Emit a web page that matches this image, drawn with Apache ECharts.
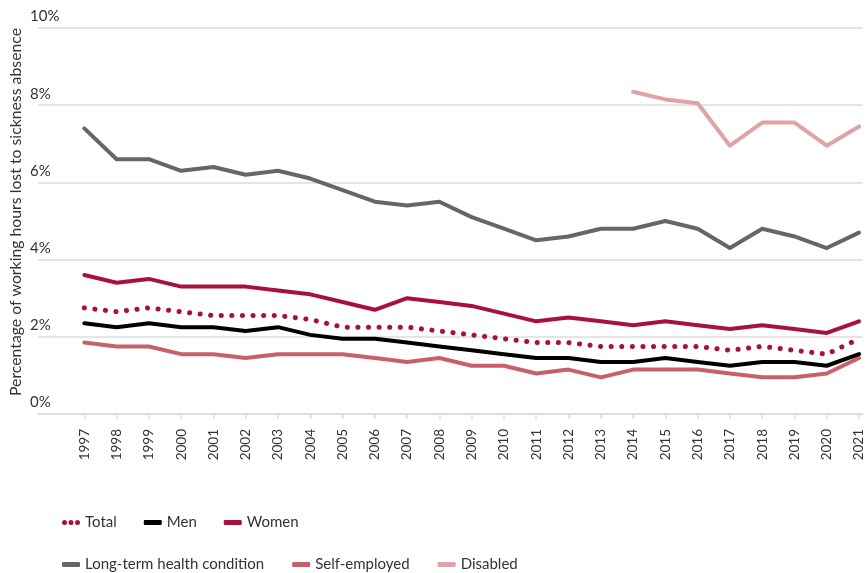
<!DOCTYPE html>
<html>
<head>
<meta charset="utf-8">
<script src="https://cdn.jsdelivr.net/npm/echarts@6/dist/echarts.min.js"></script>
<style>
  html, body { margin: 0; padding: 0; background: #fff; }
  #chart { width: 866px; height: 573px; }
</style>
</head>
<body>
<div id="chart"></div>
<script>
const years = [1997, 1998, 1999, 2000, 2001, 2002, 2003, 2004, 2005, 2006, 2007, 2008, 2009,
  2010, 2011, 2012, 2013, 2014, 2015, 2016, 2017, 2018, 2019, 2020, 2021]

const total = [2.75, 2.65, 2.75, 2.65, 2.55, 2.55, 2.55, 2.45, 2.25, 2.25, 2.25, 2.15, 2.05,
  1.95, 1.85, 1.85, 1.75, 1.75, 1.75, 1.75, 1.65, 1.75, 1.65, 1.55, 1.95]
const men = [2.35, 2.25, 2.35, 2.25, 2.25, 2.15, 2.25, 2.05, 1.95, 1.95, 1.85, 1.75, 1.65,
  1.55, 1.45, 1.45, 1.35, 1.35, 1.45, 1.35, 1.25, 1.35, 1.35, 1.25, 1.55]
const women = [3.6, 3.4, 3.5, 3.3, 3.3, 3.3, 3.2, 3.1, 2.9, 2.7, 3.0, 2.9, 2.8,
  2.6, 2.4, 2.5, 2.4, 2.3, 2.4, 2.3, 2.2, 2.3, 2.2, 2.1, 2.4]
const longTerm = [7.4, 6.6, 6.6, 6.3, 6.4, 6.2, 6.3, 6.1, 5.8, 5.5, 5.4, 5.5, 5.1,
  4.8, 4.5, 4.6, 4.8, 4.8, 5.0, 4.8, 4.3, 4.8, 4.6, 4.3, 4.7]
const selfEmployed = [1.85, 1.75, 1.75, 1.55, 1.55, 1.45, 1.55, 1.55, 1.55, 1.45, 1.35, 1.45, 1.25,
  1.25, 1.05, 1.15, 0.95, 1.15, 1.15, 1.15, 1.05, 0.95, 0.95, 1.05, 1.45]
const disabled = [null, null, null, null, null, null, null, null, null, null, null, null, null,
  null, null, null, null, 8.35, 8.15, 8.05, 6.95, 7.55, 7.55, 6.95, 7.45]

const yTicks = [0, 2, 4, 6, 8, 10]

const FONT = 'Lato, "DejaVu Sans", sans-serif'
const TEXT = '#333'

const pairs = arr => years.map((y, i) => [y, arr[i]])

function lineSeries(name, data, color, extra) {
  return Object.assign({
    name,
    type: 'line',
    data: pairs(data),
    symbol: 'none',
    connectNulls: false,
    lineStyle: { color, width: 4, cap: 'round', join: 'round' },
    itemStyle: { color },
    emphasis: { disabled: true }
  }, extra || {})
}

const chart = echarts.init(document.getElementById('chart'), null, { renderer: 'canvas' })

const legendText = { fontSize: 15, color: TEXT, fontFamily: FONT }

chart.setOption({
  animation: false,
  textStyle: { fontFamily: FONT },
  grid: { left: 29, right: 0, top: 28, bottom: 159 },
  legend: [
    {
      left: 62, top: 515, padding: 0,
      itemWidth: 18, itemHeight: 5, itemGap: 27,
      textStyle: legendText,
      data: [
        { name: 'Total', icon: 'path://M0,2.5a2.5,2.5 0 1,0 5,0a2.5,2.5 0 1,0 -5,0z M6.5,2.5a2.5,2.5 0 1,0 5,0a2.5,2.5 0 1,0 -5,0z M13,2.5a2.5,2.5 0 1,0 5,0a2.5,2.5 0 1,0 -5,0z' },
        { name: 'Men', icon: 'roundRect' },
        { name: 'Women', icon: 'roundRect' }
      ]
    },
    {
      left: 62, top: 557, padding: 0,
      itemWidth: 18, itemHeight: 5, itemGap: 28,
      textStyle: legendText,
      data: [
        { name: 'Long-term health condition', icon: 'roundRect' },
        { name: 'Self-employed', icon: 'roundRect' },
        { name: 'Disabled', icon: 'roundRect' }
      ]
    }
  ],
  xAxis: {
    type: 'value',
    min: 1995.565,
    max: 2021.12,
    splitLine: { show: false },
    axisLine: { show: true, lineStyle: { color: '#dcdcdc', width: 1.5 } },
    axisTick: { show: true, customValues: years, length: 5, lineStyle: { color: '#dcdcdc', width: 1.5 } },
    axisLabel: {
      customValues: years,
      rotate: 90,
      margin: 15,
      fontSize: 13.5,
      color: TEXT,
      fontFamily: FONT,
      formatter: v => String(Math.round(v))
    }
  },
  yAxis: {
    type: 'value',
    min: 0,
    max: 10,
    interval: 2,
    name: 'Percentage of working hours lost to sickness absence',
    nameLocation: 'middle',
    nameGap: 14,
    nameMoveOverlap: false,
    nameTextStyle: { fontSize: 15.8, color: TEXT, fontFamily: FONT, padding: [0, 0, 0, 18] },
    axisLine: { show: false },
    axisTick: { show: false },
    splitLine: { lineStyle: { color: '#dcdcdc', width: 1.5 } },
    axisLabel: {
      inside: false,
      align: 'left',
      margin: 8,
      verticalAlign: 'bottom',
      padding: [0, 0, 4, 0],
      fontSize: 15,
      color: TEXT,
      fontFamily: FONT,
      customValues: yTicks,
      formatter: v => v + '%'
    }
  },
  series: [
    lineSeries('Long-term health condition', longTerm, '#666666'),
    lineSeries('Disabled', disabled, '#dfa3a5'),
    lineSeries('Self-employed', selfEmployed, '#c8606a'),
    lineSeries('Women', women, '#a8123a'),
    lineSeries('Men', men, '#000000'),
    lineSeries('Total', total, '#a8123a', {
      lineStyle: { color: '#a8123a', width: 5, type: [0.1, 10.5], cap: 'round' }
    })
  ]
})
</script>
</body>
</html>
